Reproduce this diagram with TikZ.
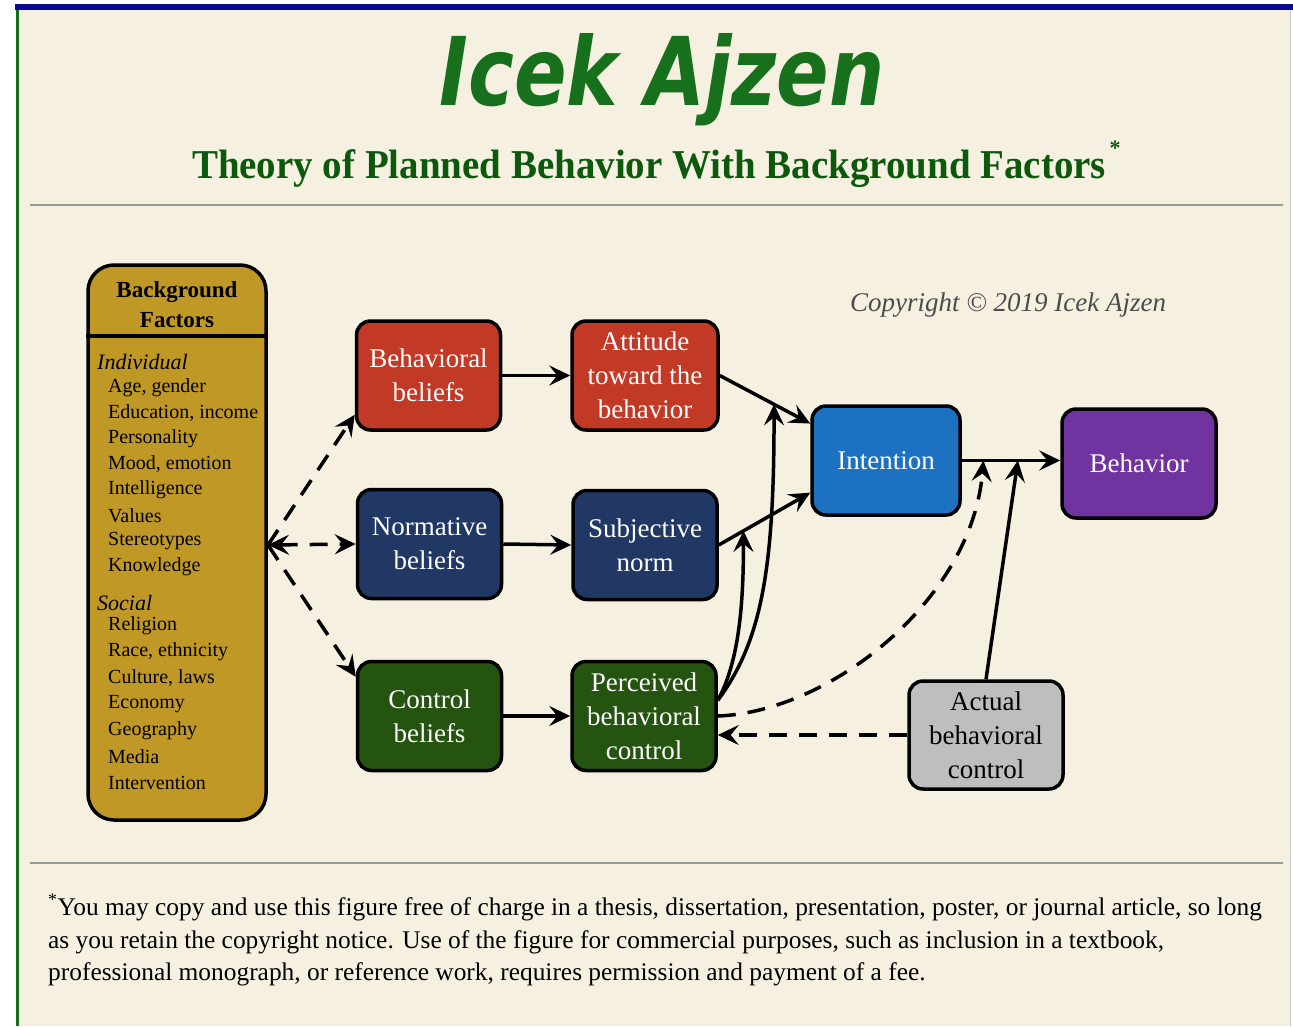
\documentclass[tikz,border=0pt]{standalone}
\usepackage{fontspec}
\setmainfont{Liberation Serif}
\newfontfamily\brushfont{DejaVu Sans}
\usetikzlibrary{arrows.meta,calc}
\definecolor{cream}{RGB}{245,240,224}
\definecolor{topblue}{RGB}{10,10,140}
\definecolor{edgegreen}{RGB}{20,110,20}
\definecolor{titlegreen}{RGB}{22,112,28}
\definecolor{subgreen}{RGB}{12,88,12}
\definecolor{bfgold}{RGB}{192,152,38}
\definecolor{boxred}{RGB}{194,58,38}
\definecolor{boxnavy}{RGB}{33,56,100}
\definecolor{boxgreen}{RGB}{37,84,17}
\definecolor{boxblue}{RGB}{29,113,193}
\definecolor{boxpurple}{RGB}{112,51,160}
\definecolor{boxgray}{RGB}{190,190,190}
\tikzset{
  tip/.tip={Stealth[length=21pt,width=20pt,inset=8pt]},
  box/.style={draw=black, line width=3.5pt, rounded corners=14pt, minimum width=144pt,
    minimum height=109pt, align=center, text=white, inner sep=0pt,
    font=\fontsize{27}{34}\selectfont},
  solidarrow/.style={line width=3.5pt, -tip},
  dasharrow/.style={solidarrow, dash pattern=on 18pt off 12pt},
  bfitem/.style={anchor=west, inner sep=0pt, font=\fontsize{20}{22}\selectfont},
  ruler/.style={line width=1.5pt, gray!80}
}
\begin{document}
\begin{tikzpicture}[x=1pt,y=-1pt]
  \useasboundingbox (0,0) rectangle (1293,1026);
  % page frame
  \fill[white] (0,0) rectangle (1293,1026);
  \fill[cream] (19,10) rectangle (1290,1026);
  \fill[topblue] (15,4) rectangle (1293,10);
  \fill[edgegreen] (16,10) rectangle (19,1026);
  \draw[gray!40, line width=1pt] (1290,10) -- (1290,1026);
  \draw[ruler] (30,205) -- (1283,205);
  \draw[ruler] (30,863) -- (1283,863);
  % headings
  \node[anchor=base, inner sep=0pt, text=titlegreen] (title) at (662,105)
    {\resizebox{445pt}{72pt}{\brushfont\bfseries\itshape Icek Ajzen}};
  \node[anchor=base, inner sep=0pt, text=subgreen] (subtitle) at (649,178)
    {\scalebox{0.95}[1]{\fontsize{41}{45}\selectfont\bfseries Theory of Planned Behavior With Background Factors}};
  \node[anchor=base, inner sep=0pt, text=subgreen] (star) at (1115,155)
    {\fontsize{22}{22}\selectfont\bfseries *};
  \node[anchor=base west, inner sep=0pt, text=black!70] (copyright) at (850,311)
    {\fontsize{27}{30}\selectfont\itshape Copyright \textcopyright\ 2019 Icek Ajzen};

  % background factors
  \node[draw=black, line width=3.5pt, rounded corners=26pt, fill=bfgold,
    minimum width=178pt, minimum height=555pt] (bf) at (177,542.5) {};
  \draw[line width=3.5pt] (bf.west |- 0,336) -- (bf.east |- 0,336);
  \node[align=center, inner sep=0pt, font=\fontsize{23}{30}\selectfont\bfseries] (bfhead) at (177,305)
    {Background\\Factors};
  \node[bfitem, font=\fontsize{22}{24}\selectfont\itshape] (indiv) at (97,362) {Individual};
  \foreach \txt [count=\i] in {{Age, gender},{Education, income},Personality,{Mood, emotion},
      Intelligence,Values,Stereotypes,Knowledge}
    \node[bfitem] (ind\i) at (108,362+\i*25.6) {\txt};
  \node[bfitem, font=\fontsize{22}{24}\selectfont\itshape] (social) at (97,603) {Social};
  \foreach \txt [count=\i] in {Religion,{Race, ethnicity},{Culture, laws},Economy,
      Geography,Media,Intervention}
    \node[bfitem] (soc\i) at (108,600+\i*26.1) {\txt};

  % model boxes
  \node[box, fill=boxred] (bb) at (428.5,375.5) {Behavioral\\beliefs};
  \node[box, fill=boxred, minimum width=146pt] (att) at (645,375.5) {Attitude\\toward the\\behavior};
  \node[box, fill=boxnavy] (nb) at (429.5,544) {Normative\\beliefs};
  \node[box, fill=boxnavy] (sn) at (645,545) {Subjective\\norm};
  \node[box, fill=boxgreen] (cb) at (429.5,716) {Control\\beliefs};
  \node[box, fill=boxgreen] (pbc) at (644,716) {Perceived\\behavioral\\control};
  \node[box, fill=boxblue, minimum width=148pt] (int) at (886,460.5) {Intention};
  \node[box, fill=boxpurple, minimum width=154pt] (beh) at (1139,463.5) {Behavior};
  \node[box, fill=boxgray, text=black, minimum width=154pt, minimum height=108pt] (abc) at (986,735)
    {Actual\\behavioral\\control};

  % connectors
  \coordinate (hub) at (268,545);
  \draw[dasharrow] (hub) -- (bb.208);
  \draw[dasharrow, tip-tip] (hub) -- (nb.west);
  \draw[dasharrow] (hub) -- (cb.152);
  \draw[solidarrow] (bb.east) -- (att.west);
  \draw[solidarrow] (nb.east) -- (sn.west);
  \draw[solidarrow] (cb.east) -- (pbc.west);
  \draw[solidarrow] (att.east) -- (int.154);
  \draw[solidarrow] (sn.east) -- (int.203);
  \coordinate (a1) at ($(att.east)!0.6!(int.154)$);
  \coordinate (s1) at ($(sn.east)!0.27!(int.203)$);
  \draw[solidarrow] (pbc.12) .. controls +(22,-40) and +(0,70) .. (s1);
  \draw[solidarrow] (pbc.12) .. controls +(45,-60) and +(0,160) .. (a1);
  \draw[solidarrow] (int.east) -- (int.east -| beh.west);
  \coordinate (i0) at ($(int.east)!0.22!(int.east -| beh.west)$);
  \coordinate (i1) at ($(int.east)!0.57!(int.east -| beh.west)$);
  \draw[dasharrow] (pbc.east) .. controls (830,712) and (972,600) .. (i0);
  \draw[solidarrow] (abc.north) -- (i1);
  \draw[dasharrow] (abc.west) -- (pbc.east |- abc.west);

  % footnote
  \node[anchor=base west, inner sep=0pt, font=\fontsize{25.4}{33}\selectfont] (fn1) at (48,915)
    {\textsuperscript{*}You may copy and use this figure free of charge in a thesis, dissertation, presentation, poster, or journal article, so long};
  \node[anchor=base west, inner sep=0pt, font=\fontsize{25.4}{33}\selectfont] (fn2) at (48,948)
    {as you retain the copyright notice. Use of the figure for commercial purposes, such as inclusion in a textbook,};
  \node[anchor=base west, inner sep=0pt, font=\fontsize{25.4}{33}\selectfont] (fn3) at (48,980)
    {professional monograph, or reference work, requires permission and payment of a fee.};
\end{tikzpicture}
\end{document}
